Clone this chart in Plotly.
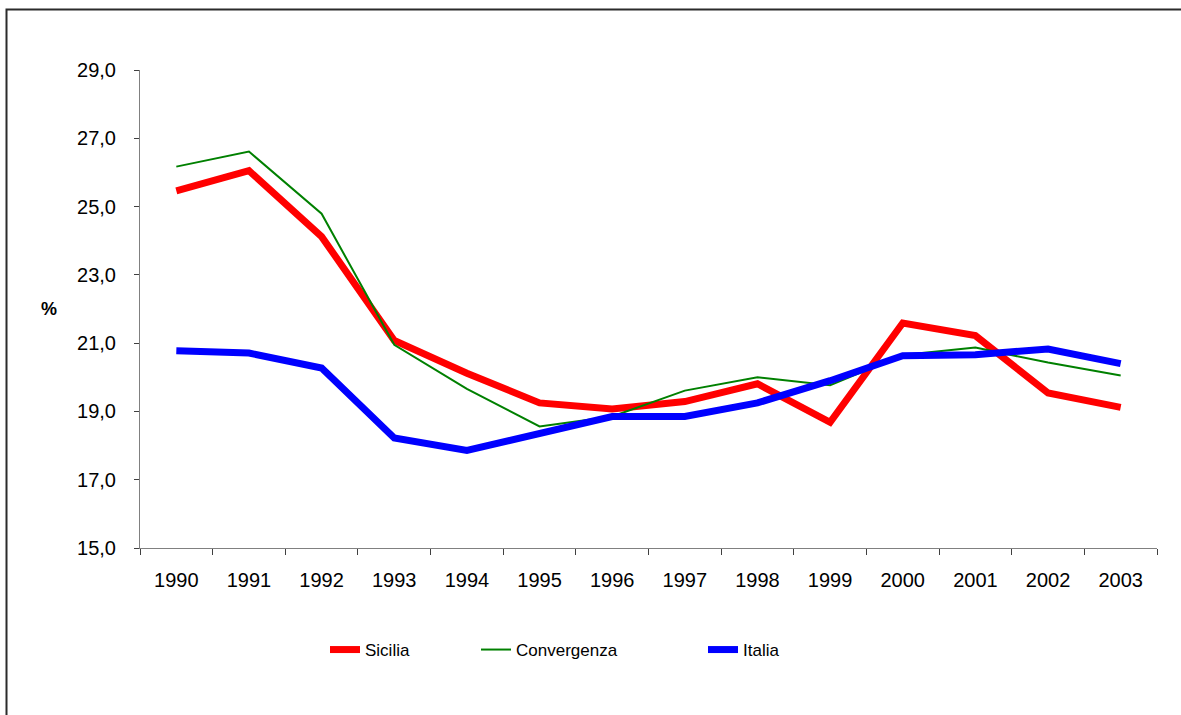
import plotly.graph_objects as go

years = ["1990", "1991", "1992", "1993", "1994", "1995", "1996", "1997",
         "1998", "1999", "2000", "2001", "2002", "2003"]
sicilia = [25.46, 26.05, 24.12, 21.08, 20.12, 19.25, 19.07, 19.29,
           19.81, 18.68, 21.59, 21.22, 19.54, 19.12]
convergenza = [26.17, 26.61, 24.79, 20.95, 19.66, 18.56, 18.85, 19.61,
               20.00, 19.77, 20.65, 20.87, 20.43, 20.05]
italia = [20.78, 20.71, 20.27, 18.22, 17.86, 18.37, 18.85, 18.85,
          19.25, 19.90, 20.63, 20.66, 20.83, 20.40]

FONT = "Liberation Sans, Arial, sans-serif"

fig = go.Figure()
fig.add_trace(go.Scatter(x=years, y=sicilia, mode="lines", name="Sicilia",
                         line=dict(color="#FF0000", width=7), legend="legend"))
fig.add_trace(go.Scatter(x=years, y=convergenza, mode="lines", name="Convergenza",
                         line=dict(color="#008000", width=2), legend="legend2"))
fig.add_trace(go.Scatter(x=years, y=italia, mode="lines", name="Italia",
                         line=dict(color="#0000FF", width=7), legend="legend3"))

W, H = 1181, 715
L, R, T, B = 140, 24, 70, 167
pw = W - L - R
ph = H - T - B

def px_x(p):
    return (p - L) / pw

def px_y(p):
    return (H - B - p) / ph

leg_common = dict(orientation="h", xanchor="left", yanchor="middle",
                  font=dict(family=FONT, size=17, color="#000000"),
                  bgcolor="rgba(0,0,0,0)", borderwidth=0)

fig.update_layout(
    width=W, height=H,
    margin=dict(l=L, r=R, t=T, b=B),
    paper_bgcolor="white", plot_bgcolor="white",
    separators=",.",
    font=dict(family=FONT, size=20, color="#000000"),
    legend=dict(x=px_x(325), y=px_y(650), **leg_common),
    legend2=dict(x=px_x(476), y=px_y(650), **leg_common),
    legend3=dict(x=px_x(703), y=px_y(650), **leg_common),
    xaxis=dict(type="category", range=[-0.5, len(years) - 0.5], showgrid=False,
               showline=True, linecolor="#808080",
               linewidth=1, ticks="outside", ticklen=6, tickcolor="#404040",
               tickson="boundaries", tickfont=dict(family=FONT, size=20),
               ticklabelstandoff=14, zeroline=False),
    yaxis=dict(range=[15, 29], dtick=2, tick0=15, tickformat=".1f", showgrid=False,
               showline=True, linecolor="#808080", linewidth=1, ticks="outside",
               ticklen=5, tickcolor="#404040", tickfont=dict(family=FONT, size=20),
               ticklabelstandoff=14, zeroline=False),
    showlegend=True,
)

fig.add_annotation(text="<b>%</b>", xref="paper", yref="paper",
                   x=px_x(49), y=px_y(309), xanchor="center", yanchor="middle",
                   showarrow=False,
                   font=dict(family=FONT, size=18, color="#000000"))

fig.add_shape(type="rect", xref="paper", yref="paper",
              x0=px_x(6.5), y0=-0.6, x1=1.2, y1=px_y(9.5),
              line=dict(color="#2b2b2b", width=2), layer="below")

fig.write_html("out.html", config={"displayModeBar": False})

with open("out.html", "r", encoding="utf-8") as f:
    html = f.read()
html = html.replace("<body>", '<body style="margin:0;padding:0;">', 1)
with open("out.html", "w", encoding="utf-8") as f:
    f.write(html)
